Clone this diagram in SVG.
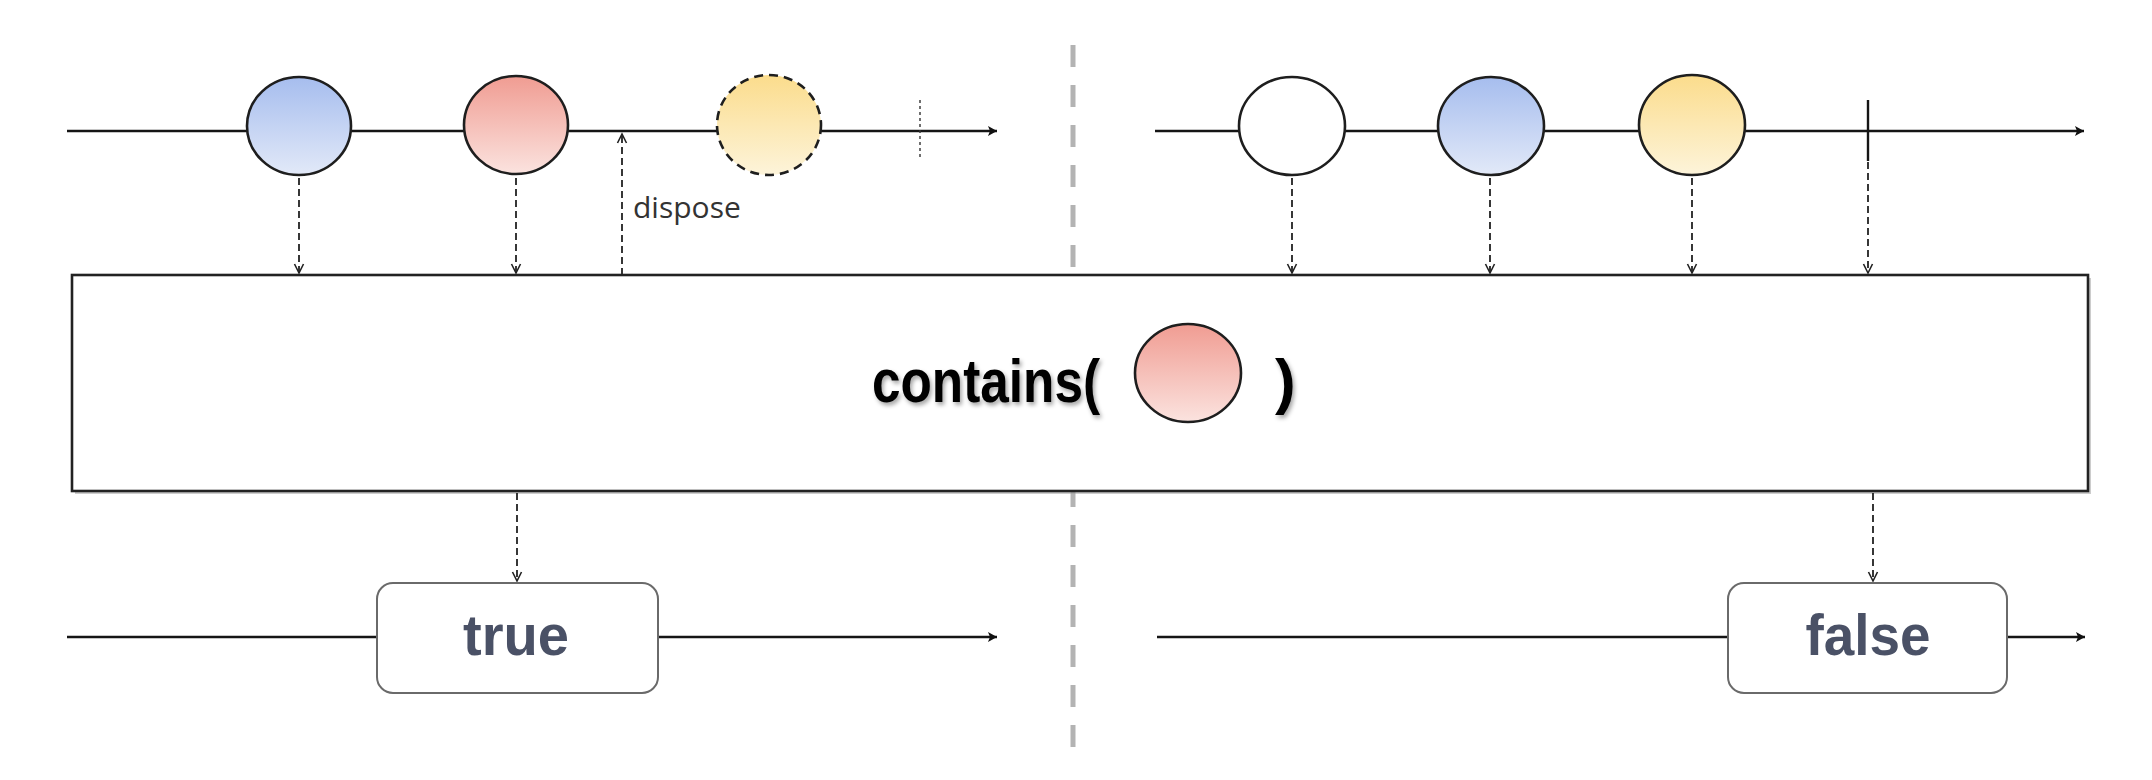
<svg xmlns="http://www.w3.org/2000/svg" width="2152" height="780" viewBox="0 0 2152 780">
<style>
.line{stroke:#151515;stroke-width:2.6;fill:none}
.dash{stroke:#222;stroke-width:1.8;stroke-dasharray:7 4;fill:none}
.marble{stroke:#1e1e1e;stroke-width:2.6}
.label{font-family:"Open Sans","Liberation Sans",sans-serif;font-size:30px;fill:#333}
.op{font-family:"Liberation Sans",Arial,sans-serif;font-weight:bold;font-size:62px;fill:#050505}
.res{font-family:"Liberation Sans",Arial,sans-serif;font-weight:bold;font-size:58px;fill:#4a5166}
.rbox{fill:#fff;stroke:#6a6a6a;stroke-width:2}
</style>
<defs>
<linearGradient id="gBlue" x1="0" y1="0" x2="0" y2="1"><stop offset="0" stop-color="#a6bdee"/><stop offset="1" stop-color="#e2e9f8"/></linearGradient>
<linearGradient id="gRed" x1="0" y1="0" x2="0" y2="1"><stop offset="0" stop-color="#f09c92"/><stop offset="1" stop-color="#fbe3df"/></linearGradient>
<linearGradient id="gYellow" x1="0" y1="0" x2="0" y2="1"><stop offset="0" stop-color="#fbdc8c"/><stop offset="1" stop-color="#fdf4da"/></linearGradient>
<marker id="arr" markerWidth="12" markerHeight="12" refX="10" refY="6" orient="auto" markerUnits="userSpaceOnUse">
<path d="M1,1 L10,6 L1,11 L3,6 Z" fill="#111"/>
</marker>
<marker id="open" markerWidth="12" markerHeight="12" refX="10" refY="6" orient="auto" markerUnits="userSpaceOnUse">
<path d="M1,1.5 L10,6 L1,10.5" fill="none" stroke="#222" stroke-width="1.6"/>
</marker>
<filter id="sh" x="-10%" y="-20%" width="120%" height="150%">
<feDropShadow dx="2" dy="3" stdDeviation="2" flood-color="#000" flood-opacity="0.35"/>
</filter>
</defs>

<g id="divider">
<line x1="1073" y1="45" x2="1073" y2="762" stroke="#b3b3b3" stroke-width="5" stroke-dasharray="22 18"/>
</g>

<g id="timelines">
<line class="line" x1="67" y1="131" x2="997" y2="131" marker-end="url(#arr)"/>
<line class="line" x1="1155" y1="131" x2="2084" y2="131" marker-end="url(#arr)"/>
<line class="line" x1="67" y1="637" x2="997" y2="637" marker-end="url(#arr)"/>
<line class="line" x1="1157" y1="637" x2="2085" y2="637" marker-end="url(#arr)"/>
</g>

<g id="operator">
<rect x="75" y="278" width="2016" height="216" fill="#9a9a9a" opacity="0.5"/>
<rect x="72" y="275" width="2016" height="216" fill="#fff" stroke="#222" stroke-width="2.6"/>
<g filter="url(#sh)">
<text class="op" x="872" y="402" textLength="228" lengthAdjust="spacingAndGlyphs">contains(</text>
<text class="op" x="1275" y="402">)</text>
</g>
<ellipse cx="1188" cy="373" rx="53" ry="49" fill="url(#gRed)" class="marble"/>
</g>

<g id="connectors">
<line class="dash" x1="299" y1="178" x2="299" y2="273" marker-end="url(#open)"/>
<line class="dash" x1="516" y1="178" x2="516" y2="273" marker-end="url(#open)"/>
<line class="dash" x1="622" y1="275" x2="622" y2="134" marker-end="url(#open)"/>
<line class="dash" x1="1292" y1="178" x2="1292" y2="273" marker-end="url(#open)"/>
<line class="dash" x1="1490" y1="178" x2="1490" y2="273" marker-end="url(#open)"/>
<line class="dash" x1="1692" y1="178" x2="1692" y2="273" marker-end="url(#open)"/>
<line class="dash" x1="1868" y1="162" x2="1868" y2="273" marker-end="url(#open)"/>
<line class="dash" x1="517" y1="493" x2="517" y2="581" marker-end="url(#open)"/>
<line class="dash" x1="1873" y1="493" x2="1873" y2="581" marker-end="url(#open)"/>
</g>

<g id="m-blue-1"><ellipse cx="299" cy="126" rx="52" ry="49" fill="url(#gBlue)" class="marble"/></g>
<g id="m-red-1"><ellipse cx="516" cy="125" rx="52" ry="49" fill="url(#gRed)" class="marble"/></g>
<g id="m-yellow-disposed"><ellipse cx="769" cy="125" rx="52" ry="50" fill="url(#gYellow)" stroke="#1e1e1e" stroke-width="2.6" stroke-dasharray="9 6"/></g>
<g id="cancel-mark"><line x1="920" y1="100" x2="920" y2="160" stroke="#333" stroke-width="1.4" stroke-dasharray="3 3"/></g>
<g id="dispose-label"><text class="label" x="633" y="218">dispose</text></g>

<g id="m-white"><ellipse cx="1292" cy="126" rx="53" ry="49" fill="#fff" class="marble"/></g>
<g id="m-blue-2"><ellipse cx="1491" cy="126" rx="53" ry="49" fill="url(#gBlue)" class="marble"/></g>
<g id="m-yellow"><ellipse cx="1692" cy="125" rx="53" ry="50" fill="url(#gYellow)" class="marble"/></g>
<g id="complete-mark"><line x1="1868" y1="100" x2="1868" y2="161" stroke="#151515" stroke-width="2.4"/></g>

<g id="result-true">
<rect class="rbox" x="377" y="583" width="281" height="110" rx="16"/>
<text class="res" x="516" y="655" text-anchor="middle" textLength="106" lengthAdjust="spacingAndGlyphs">true</text>
</g>
<g id="result-false">
<rect class="rbox" x="1728" y="583" width="279" height="110" rx="16"/>
<text class="res" x="1868" y="655" text-anchor="middle" textLength="125" lengthAdjust="spacingAndGlyphs">false</text>
</g>
</svg>
